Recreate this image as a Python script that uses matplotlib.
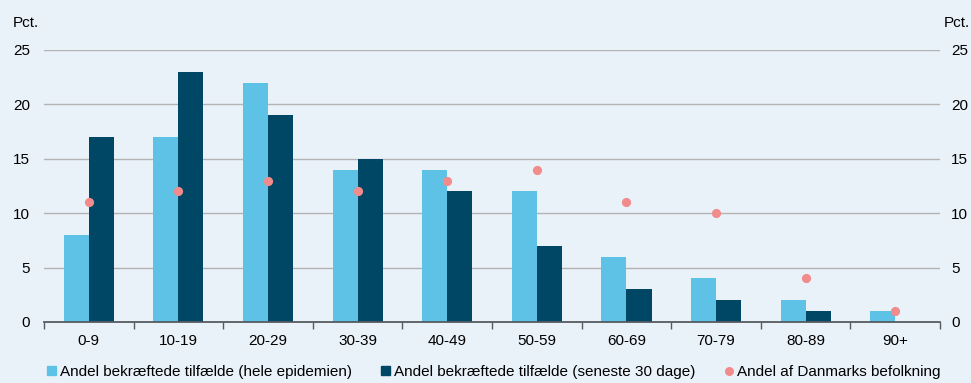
import numpy as np
import matplotlib.pyplot as plt
from matplotlib.lines import Line2D
from matplotlib.patches import Patch

plt.rcParams["font.family"] = ["Liberation Sans", "DejaVu Sans"]

age_groups = ["0-9", "10-19", "20-29", "30-39", "40-49",
              "50-59", "60-69", "70-79", "80-89", "90+"]
share_total = [8, 17, 22, 14, 14, 12, 6, 4, 2, 1]
share_last30 = [17, 23, 19, 15, 12, 7, 3, 2, 1, 0]
share_population = [11, 12, 13, 12, 13, 14, 11, 10, 4, 1]

labels = [
    "Andel bekræftede tilfælde (hele epidemien)",
    "Andel bekræftede tilfælde (seneste 30 dage)",
    "Andel af Danmarks befolkning",
]

bg = "#eaf2f9"
light = "#5ec2e6"
dark = "#004665"
pink = "#f28c8c"
fs = 11

fig = plt.figure(figsize=(9.71, 3.83), dpi=100, facecolor=bg)
ax = fig.add_axes([0.0453, 0.1593, 0.9228, 0.7102], facecolor=bg)

x = np.arange(len(age_groups))
w = 0.28
ax.bar(x - w / 2, share_total, w, color=light, zorder=2)
ax.bar(x + w / 2, share_last30, w, color=dark, zorder=2)
ax.scatter(x, share_population, s=44, color=pink, zorder=3, linewidths=0)

ax.set_xlim(-0.5, len(age_groups) - 0.5)
ax.set_ylim(0, 25)
ax.set_yticks(range(0, 26, 5))
for v in range(5, 26, 5):
    ax.axhline(v, color="#b3b3b3", lw=1, zorder=1)

for s in ["top", "left", "right"]:
    ax.spines[s].set_visible(False)
ax.spines["bottom"].set_color("#555b60")
ax.spines["bottom"].set_linewidth(1.3)

# category labels centred, tick marks on the group boundaries
ax.set_xticks(np.arange(-0.5, len(age_groups) + 0.5, 1))
ax.set_xticklabels([])
ax.set_xticks(x, minor=True)
ax.set_xticklabels(age_groups, minor=True, fontsize=fs)
ax.tick_params(axis="x", which="major", length=5, width=1, color="#555b60",
               direction="out")
ax.tick_params(axis="x", which="minor", length=0, pad=9)

ax.tick_params(axis="y", length=0, labelsize=fs, pad=10,
               labelleft=True, labelright=False)
ax2 = ax.twinx()
ax2.set_ylim(0, 25)
ax2.set_yticks(range(0, 26, 5))
ax2.tick_params(axis="y", length=0, labelsize=fs, pad=8)
for s in ["top", "left", "right", "bottom"]:
    ax2.spines[s].set_visible(False)

fig.text(13 / 971, 1 - 23 / 383, "Pct.", fontsize=fs, va="center", ha="left")
fig.text(970 / 971, 1 - 23 / 383, "Pct.", fontsize=fs, va="center", ha="right")

handles = [
    Patch(color=light),
    Patch(color=dark),
    Line2D([], [], marker="o", ls="", color=pink, markersize=6.5,
           markeredgewidth=0),
]
fig.legend(handles, labels, loc="center",
           bbox_to_anchor=(494 / 971, 1 - 372 / 383),
           ncol=3, frameon=False, fontsize=fs, handlelength=0.6,
           handleheight=0.6, handletextpad=0.25, columnspacing=1.9,
           borderaxespad=0)

fig.savefig("out.png", dpi=100, facecolor=bg)
